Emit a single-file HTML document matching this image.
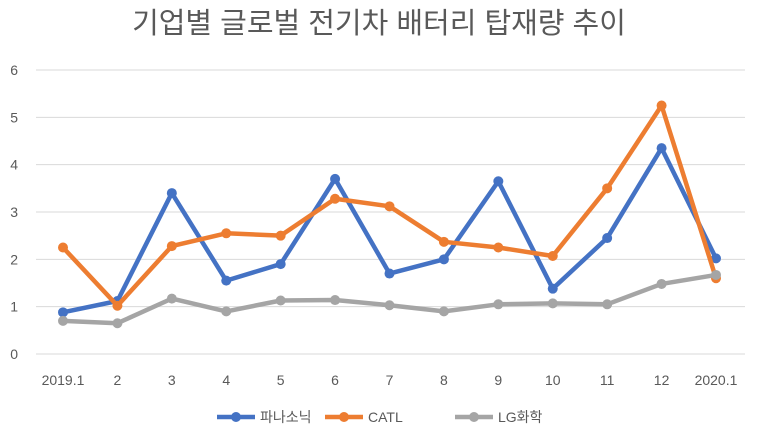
<!DOCTYPE html>
<html><head><meta charset="utf-8"><style>
body{margin:0;background:#fff;}
svg{display:block;font-family:"Liberation Sans","Noto Sans CJK KR",sans-serif;}
</style></head><body>
<svg id="chart" width="758" height="440">
<text x="379" y="33" text-anchor="middle" font-size="29" fill="#595959">기업별 글로벌 전기차 배터리 탑재량 추이</text>
<g id="grid"></g><g id="axes"></g><g id="series"></g><g id="legend"></g>
</svg>
<script>
const categories=["2019.1","2","3","4","5","6","7","8","9","10","11","12","2020.1"];
const panasonic=[0.88,1.12,3.4,1.55,1.9,3.7,1.7,2.0,3.65,1.38,2.45,4.35,2.02];
const catl=[2.25,1.02,2.28,2.55,2.5,3.28,3.12,2.37,2.25,2.07,3.5,5.25,1.6];
const lg=[0.7,0.65,1.17,0.9,1.13,1.14,1.03,0.9,1.05,1.07,1.05,1.48,1.67];
const yTicks=[0,1,2,3,4,5,6];
const seriesNames=["파나소닉","CATL","LG화학"];
const NS="http://www.w3.org/2000/svg";
const x0=63,x1=716,y0=354,y6=70;
const xs=i=>x0+(x1-x0)*i/(categories.length-1);
const ys=v=>y0-(y0-y6)*v/6;
function mk(t,a,p){const e=document.createElementNS(NS,t);for(const k in a)e.setAttribute(k,a[k]);p.appendChild(e);return e;}
const grid=document.getElementById('grid'),axes=document.getElementById('axes'),ser=document.getElementById('series'),leg=document.getElementById('legend');
yTicks.forEach(v=>{
 const l=mk('line',{x1:36,x2:745,y1:ys(v),y2:ys(v),stroke:'#d9d9d9','stroke-width':1},grid);
 
 
 const t=mk('text',{x:18,y:ys(v)+5,'text-anchor':'end','font-size':14,fill:'#595959'},axes);
 t.textContent=v;
 
 
});
categories.forEach((c,i)=>{
 const t=mk('text',{x:xs(i),y:385,'text-anchor':'middle','font-size':14,fill:'#595959'},axes);
 t.textContent=c;
 
 
});
const data=[panasonic,catl,lg],colors=['#4472c4','#ed7d31','#a5a5a5'];
data.forEach((d,si)=>{
 const g=mk('g',{},ser);
 
 
 const p=mk('polyline',{points:d.map((v,i)=>xs(i)+','+ys(v)).join(' '),fill:'none',stroke:colors[si],'stroke-width':4.5,'stroke-linejoin':'round'},g);
 
 
 d.forEach((v,i)=>{
  const c=mk('circle',{cx:xs(i),cy:ys(v),r:5,fill:colors[si]},g);
  
  
 });
});
const lx=[217,325,455];
seriesNames.forEach((n,si)=>{
 const g=mk('g',{},leg);
 
 
 mk('line',{x1:lx[si],x2:lx[si]+38,y1:417,y2:417,stroke:colors[si],'stroke-width':4.5},g);
 mk('circle',{cx:lx[si]+19,cy:417,r:5,fill:colors[si]},g);
 const t=mk('text',{x:lx[si]+43,y:422,'font-size':14,fill:'#595959'},g);
 t.textContent=n;
});
</script>
</body></html>
